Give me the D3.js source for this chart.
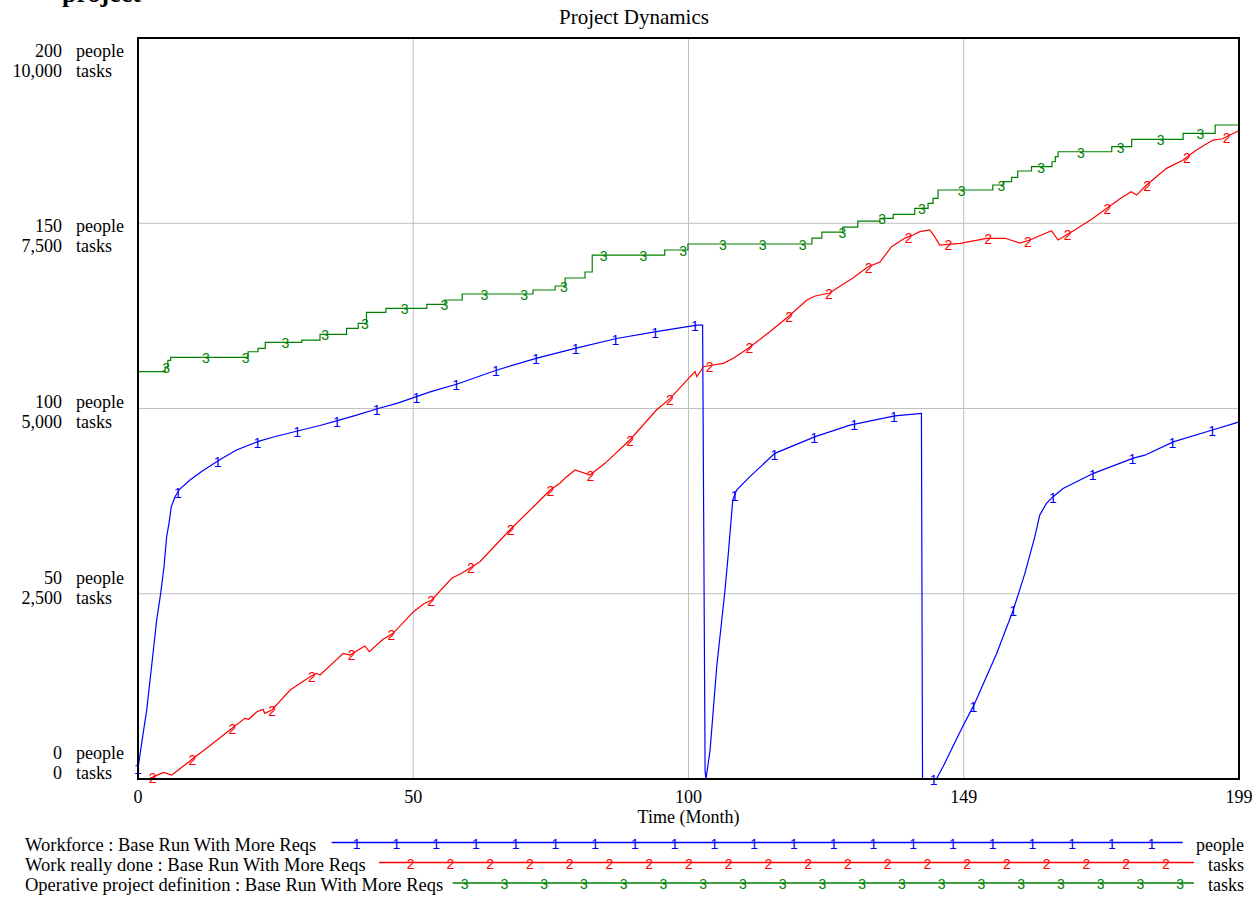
<!DOCTYPE html>
<html><head><meta charset="utf-8">
<script src="https://cdn.jsdelivr.net/npm/d3@7"></script>
<style>
body{margin:0;background:#fff}
svg{display:block}
text{font-family:"Liberation Serif","Times New Roman",serif;fill:#000}
.mk{font-family:"Liberation Sans",Arial,sans-serif;font-size:14px}
</style>
</head><body>
<svg id="c" width="1260" height="897"></svg>
<script>
// ---------- data ----------
const xTickValues = [0, 49.75, 99.5, 149.25, 199];
const xTickLabels = ["0", "50", "100", "149", "199"];
const peopleTicks = [0, 50, 100, 150, 200];
const peopleTickLabels = ["0", "50", "100", "150", "200"];
const taskTicks = [0, 2500, 5000, 7500, 10000];
const taskTickLabels = ["0", "2,500", "5,000", "7,500", "10,000"];

const seriesNames = ["Workforce : Base Run With More Reqs",
  "Work really done : Base Run With More Reqs",
  "Operative project definition : Base Run With More Reqs"];
const seriesUnits = ["people", "tasks", "tasks"];

// Workforce (people) [month, value]
const workforce = [[0,2.9],[0.66,9.6],[1.57,18.6],[2.65,33],[3.37,42.9],[4.1,50.1],[4.7,57.3],[5.18,65.4],[5.6,69],[6.02,73.5],[6.69,76.2],[7.5,78.2],[9.4,80.7],[11.5,83],[14.7,86.1],[17.8,88.8],[21.9,91.2],[24.5,92.3],[29,94],[32.9,95.4],[36.2,96.8],[39.5,98.2],[43.4,100],[46.8,101.4],[50.7,103.4],[52.8,104.5],[57.7,106.6],[64.9,110.4],[72.1,113.6],[79.2,116.3],[86.5,118.9],[93.4,120.7],[101,122.5],[102.05,122.5],[102.5,2],[102.66,0],[103.4,7.8],[104.6,30.3],[106.1,51],[106.7,60.9],[107.5,75.3],[108.2,78],[110.6,81.6],[115.1,87.9],[122.4,92.4],[128.7,95.5],[136.8,98],[141.6,98.7],[141.8,0],[144.3,0],[145.5,3.3],[148.9,13.7],[151.1,20],[155.2,33.9],[158.2,45.6],[160.3,55.5],[162.1,65.4],[163,71.3],[164.2,74.4],[165.4,76.2],[167.2,78.4],[172.7,82.5],[179.9,86.6],[182,87.4],[187.1,91],[194.2,94.2],[198.6,96.2],[199,96.4]];

// Work really done (tasks)
const workDone = [[0,0],[2.17,9],[4.57,90],[6.1,54],[10,279],[12.4,414],[16.6,661],[19.3,819],[20,806],[21.5,908],[22.6,940],[22.9,886],[24.2,931],[27.5,1201],[31.1,1381],[32.3,1426],[32.9,1403],[37.1,1696],[38.3,1673],[41,1795],[41.8,1718],[44.3,1885],[46.1,1966],[49.8,2258],[51.6,2362],[53.1,2416],[56.7,2708],[58.5,2776],[61.8,2933],[67.2,3360],[71.8,3698],[74.5,3900],[76.3,3995],[77.2,4062],[79,4170],[81.7,4103],[84.4,4260],[88.9,4575],[93.7,4980],[96.2,5137],[99.8,5429],[100.7,5497],[101,5429],[102.2,5564],[104,5587],[105.8,5609],[107.6,5677],[110.3,5812],[114.2,6036],[117.5,6239],[120.9,6464],[122.4,6518],[125,6559],[129.2,6761],[131.9,6909],[134.1,6977],[136.2,7183],[138.6,7300],[140.1,7341],[141.3,7386],[143.1,7409],[144,7319],[144.9,7206],[148.6,7229],[153.4,7297],[156.7,7297],[159.4,7233],[161.2,7274],[165.1,7399],[166.3,7274],[169.3,7409],[172.5,7560],[175.1,7701],[177.5,7830],[179.5,7926],[180.5,7880],[182.3,8016],[185.9,8241],[188.9,8353],[191.3,8488],[194.3,8623],[196,8640],[198.6,8735],[199,8760]];

// Operative project definition (tasks), step changes
const projectDef = [[0,5497],[4.9,5560],[5.4,5650],[5.9,5691],[19.9,5766],[21.7,5812],[23,5893],[29.6,5924],[32.9,6001],[37.7,6082],[39.8,6150],[41.3,6298],[44.8,6352],[52.2,6406],[55.5,6464],[58.6,6545],[71.4,6599],[75.4,6653],[77.2,6761],[80.8,6842],[82.1,7071],[95.2,7139],[99.4,7220],[121.8,7300],[123.6,7381],[127.4,7449],[130.1,7530],[134.1,7567],[136.5,7621],[140.4,7701],[142.8,7769],[143.7,7836],[144.6,7949],[154.5,8016],[156.4,8061],[157.9,8120],[159,8205],[161.5,8263],[165.2,8330],[165.8,8400],[166.3,8465],[176,8533],[179.6,8633],[188.9,8714],[194.7,8826],[199,8826]];

const markerStep = 7.19;            // months between series number markers
const markerOffsets = [0, 2.66, 5.07];

// ---------- layout ----------
const M = {left:138, right:1239, top:38, bottom:779};
const colors = ["#0000ff", "#ff0000", "#008000"];

const svg = d3.select("#c");
const x = d3.scaleLinear().domain([0,199]).range([M.left, M.right]);
const yP = d3.scaleLinear().domain([0,200]).range([M.bottom, M.top]);
const yT = d3.scaleLinear().domain([0,10000]).range([M.bottom, M.top]);
const yLabP = d3.scaleLinear().domain([0,200]).range([759.3, 56.5]);
const yLabT = d3.scaleLinear().domain([0,10000]).range([779.3, 76.5]);

// cut-off heading at top (as in the reference)
svg.append("text").attr("x", 62).attr("y", 2).style("font-size","26px").style("font-weight","bold").text("project");

// title
svg.append("text").attr("x", 634).attr("y", 24).attr("text-anchor","middle").style("font-size","21px").text("Project Dynamics");

// grid
const g = svg.append("g");
g.selectAll(".vg").data(xTickValues.slice(1,-1)).join("line")
  .attr("x1", d=>x(d)).attr("x2", d=>x(d)).attr("y1", M.top).attr("y2", M.bottom)
  .attr("stroke","#c0c0c0").attr("stroke-width",1);
g.selectAll(".hg").data(peopleTicks.slice(1,-1)).join("line")
  .attr("x1", M.left).attr("x2", M.right).attr("y1", d=>yP(d)).attr("y2", d=>yP(d))
  .attr("stroke","#c0c0c0").attr("stroke-width",1);

// clip
svg.append("clipPath").attr("id","pc").append("rect")
  .attr("x", M.left).attr("y", M.top-2).attr("width", M.right-M.left).attr("height", M.bottom-M.top+2);

const plot = svg.append("g").attr("clip-path","url(#pc)");

const lineP = d3.line().x(d=>x(d[0])).y(d=>yP(d[1]));
const lineT = d3.line().x(d=>x(d[0])).y(d=>yT(d[1]));
const lineTStep = d3.line().curve(d3.curveStepAfter).x(d=>x(d[0])).y(d=>yT(d[1]));

plot.append("path").attr("d", lineP(workforce)).attr("fill","none").attr("stroke",colors[0]).attr("stroke-width",1.2);
plot.append("path").attr("d", lineT(workDone)).attr("fill","none").attr("stroke",colors[1]).attr("stroke-width",1.2);
plot.append("path").attr("d", lineTStep(projectDef)).attr("fill","none").attr("stroke",colors[2]).attr("stroke-width",1.2);

function interpLinear(data, t){
  for(let i=1;i<data.length;i++){
    if(data[i][0] >= t){
      const a=data[i-1], b=data[i];
      const f = (b[0]-a[0])===0 ? 0 : (t-a[0])/(b[0]-a[0]);
      return a[1] + f*(b[1]-a[1]);
    }
  }
  return data[data.length-1][1];
}
function interpStep(data, t){
  let v = data[0][1];
  for(const d of data){ if(d[0] <= t) v = d[1]; else break; }
  return v;
}

const seriesDefs = [
  {data:workforce, y:yP, f:interpLinear},
  {data:workDone, y:yT, f:interpLinear},
  {data:projectDef, y:yT, f:interpStep}
];
seriesDefs.forEach((s,i)=>{
  const ts = [];
  for(let t=markerOffsets[i]; t<=199; t+=markerStep) ts.push(t);
  svg.append("g").selectAll("text").data(ts).join("text")
    .attr("class","mk")
    .attr("x", t=>x(t)).attr("y", t=>s.y(s.f(s.data,t)) + 6)
    .attr("text-anchor","middle")
    .style("fill", colors[i])
    .text(String(i+1));
});

// frame
svg.append("rect").attr("x", M.left).attr("y", M.top).attr("width", M.right-M.left).attr("height", M.bottom-M.top)
  .attr("fill","none").attr("stroke","#000").attr("stroke-width",2);

// y labels
const yl = svg.append("g").style("font-size","18px");
peopleTicks.forEach((v,i)=>{
  yl.append("text").attr("x",62).attr("y",yLabP(v)).attr("text-anchor","end").text(peopleTickLabels[i]);
  yl.append("text").attr("x",76).attr("y",yLabP(v)).text("people");
});
taskTicks.forEach((v,i)=>{
  yl.append("text").attr("x",62).attr("y",yLabT(v)).attr("text-anchor","end").text(taskTickLabels[i]);
  yl.append("text").attr("x",76).attr("y",yLabT(v)).text("tasks");
});

// x labels
const xl = svg.append("g").style("font-size","18px");
xTickValues.forEach((v,i)=>{
  xl.append("text").attr("x",x(v)).attr("y",803).attr("text-anchor","middle").text(xTickLabels[i]);
});
xl.append("text").attr("x", x(99.5)).attr("y", 823).attr("text-anchor","middle").text("Time (Month)");

// legend
const legendRows = [
  {y:842.5, x0:331.7, x1:1182.7},
  {y:862.5, x0:379, x1:1194},
  {y:883, x0:452.7, x1:1194}
];
const lg = svg.append("g").style("font-size","18.5px");
legendRows.forEach((r,i)=>{
  lg.append("text").attr("x",25).attr("y",r.y+8).text(seriesNames[i]);
  lg.append("line").attr("x1",r.x0).attr("x2",r.x1).attr("y1",r.y).attr("y2",r.y)
    .attr("stroke",colors[i]).attr("stroke-width",1.6);
  const xs = [];
  for(let px = 317 + 14.25*i; px <= r.x1 - 8; px += 39.75){ if(px >= r.x0 + 5) xs.push(px); }
  lg.selectAll(".m"+i).data(xs).join("text").attr("class","mk")
    .attr("x", d=>d).attr("y", r.y+6).attr("text-anchor","middle").style("fill",colors[i]).text(String(i+1));
  lg.append("text").attr("x",1244).attr("y",r.y+8).attr("text-anchor","end").style("font-size","18px").text(seriesUnits[i]);
});
</script>
</body></html>
